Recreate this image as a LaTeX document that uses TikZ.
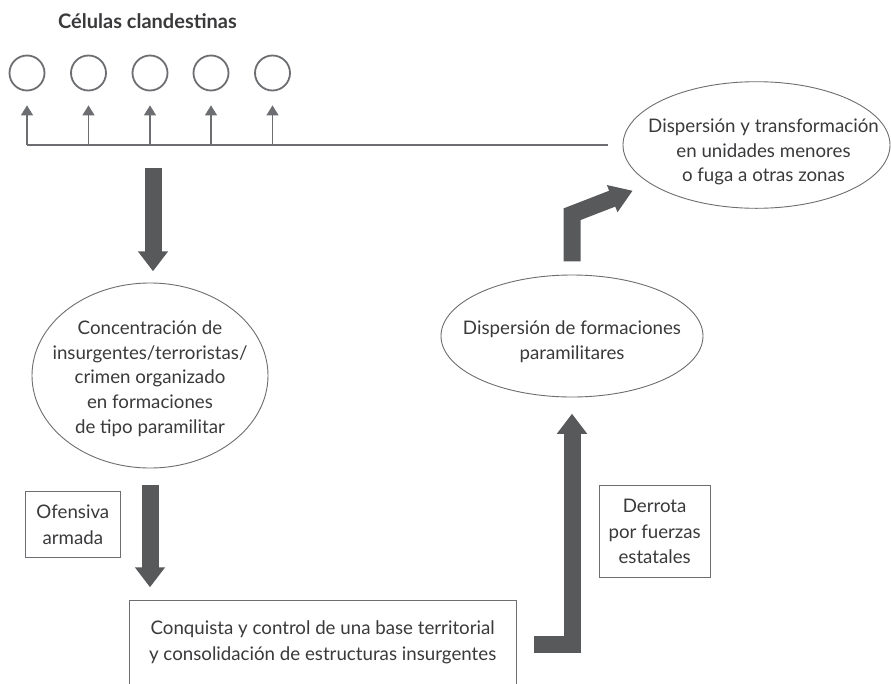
\documentclass[tikz,border=0pt]{standalone}
\usepackage{fontspec}
\setmainfont{Lato}
\usetikzlibrary{arrows.meta,shapes.geometric}
\definecolor{linegray}{HTML}{6D6E71}
\definecolor{arrowgray}{HTML}{58595B}
\definecolor{txtgray}{HTML}{3A3A3C}
\begin{document}
\begin{tikzpicture}[x=1pt,y=-1pt,
  every node/.style={text=txtgray},
  txt/.style={align=center, font=\fontsize{18.7}{24.7}\selectfont, inner sep=0pt},
  cell/.style={circle, draw=linegray, line width=1.8pt, minimum size=35pt, inner sep=0pt},
  oval/.style={ellipse, draw=linegray, line width=0.9pt, inner sep=0pt},
  tag/.style={rectangle, draw=linegray, line width=0.9pt, inner sep=0pt, align=center,
              font=\fontsize{18.7}{25.5}\selectfont},
  thinarrow/.style={draw=linegray, line width=1.4pt, -{Triangle[width=12pt,length=10pt]}},
  bigarrow/.style={draw=arrowgray, line width=17pt, line join=miter,
                   -{Triangle[width=29pt,length=20pt]}},
]
% canvas
\fill[white] (0,0) rectangle (891,683);
\useasboundingbox (0,0) rectangle (891,683);

% heading and the five cells
\node[font=\bfseries\fontsize{20}{22}\selectfont] (title) at (147.5,21) {Células clandestinas};
\node[cell] (c1) at (27,73) {};
\node[cell] (c2) at (88.5,73) {};
\node[cell] (c3) at (150,73) {};
\node[cell] (c4) at (211,73) {};
\node[cell] (c5) at (272.5,73) {};

% distribution line feeding the cells
\coordinate (lineEnd) at (608,145);
\foreach \k in {1,...,5} { \coordinate (h\k) at (c\k |- lineEnd); }
\draw[linegray, line width=1.4pt] (h1) -- (lineEnd);
\foreach \k in {1,...,5} { \draw[thinarrow, shorten >=14pt] (h\k) -- (c\k.south); }
\coordinate (hub) at (153,145);

% ellipses
\node[oval, minimum width=236pt, minimum height=185pt] (conc) at (150,375.5) {};
\node[txt] (concT) at (150,378.6) {Concentración de\\insurgentes/terroristas/\\crimen organizado\\en formaciones\\de tipo paramilitar};

\node[oval, minimum width=262pt, minimum height=122pt] (disp) at (572,336) {};
\node[txt] (dispT) at (572,341.5) {Dispersión de formaciones\\paramilitares};

\node[oval, minimum width=267pt, minimum height=126.6pt] (frag) at (756.5,145) {};
\node[txt] (fragT) at (763.5,152) {Dispersión y transformación\\en unidades menores\\o fuga a otras zonas};

% boxes
\node[tag, minimum width=94.3pt, minimum height=66pt] (ofen) at (72.85,524.7) {Ofensiva\\armada};
\node[tag, minimum width=110.7pt, minimum height=92.4pt] (derr) at (654.65,531.5) {Derrota\\por fuerzas\\estatales};
\node[tag, minimum width=386.7pt, minimum height=83.6pt] (conq) at (322.65,642.5) {Conquista y control de una base territorial\\y consolidación de estructuras insurgentes};

% thick flow arrows
\draw[bigarrow, shorten <=22.7pt, shorten >=11.3pt] (hub) -- (hub |- conc.north);
\draw[bigarrow, shorten <=16.3pt, shorten >=13pt] (conc.south) -- (conc.south |- conq.north);
\coordinate (b0) at (534,644.3);
\draw[bigarrow, shorten >=16.3pt] (b0) -| (disp.south);
\coordinate (tipA) at (632.7,190.7);
\draw[bigarrow, -{Triangle[width=27.6pt,length=22pt]}] ([yshift=13.3pt]disp.north) -- ++(0,-47) -- (tipA);
\end{tikzpicture}
\end{document}
